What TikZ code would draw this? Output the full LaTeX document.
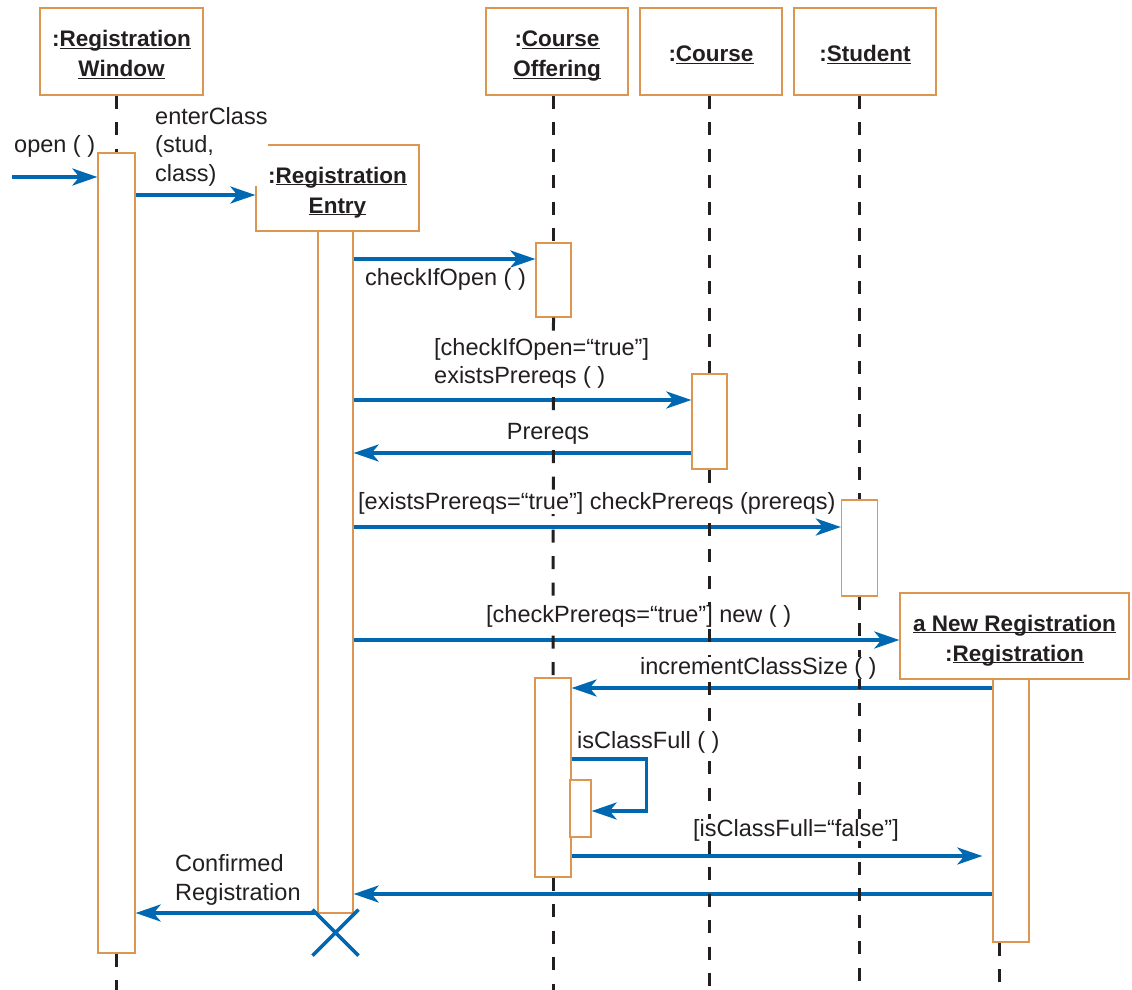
\documentclass[tikz,border=0pt]{standalone}
\usepackage{fontspec}
\setmainfont{Liberation Sans}
\usetikzlibrary{arrows.meta, positioning, calc}

\definecolor{msgblue}{RGB}{0,103,177}
\definecolor{boxorange}{RGB}{221,150,82}
\definecolor{ink}{RGB}{35,31,32}

% underline that ignores descenders
\newcommand{\uname}[1]{\underline{\smash{#1}}}
% extra head room for the first line of an object box
\newcommand{\headroom}{\rule{0pt}{22pt}}

\begin{document}
\begin{tikzpicture}[
    x=1pt, y=-1pt, >=Stealth,
    obj/.style={draw=boxorange, line width=1.3pt, fill=white, text=ink, align=center,
        font=\fontsize{22.5}{30}\selectfont\bfseries, inner sep=0pt},
    act/.style={draw=boxorange, line width=1.3pt, fill=white, inner sep=0pt},
    life/.style={draw=ink, line width=3pt, dash pattern=on 13pt off 13.5pt},
    msg/.style={draw=msgblue, line width=3.6pt, -{Stealth[length=25pt, width=17pt, inset=7pt]}},
    lbl/.style={text=ink, fill=white, font=\fontsize{23.5}{28.5}\selectfont, align=left, inner sep=0pt},
    cross/.style={draw=msgblue, line width=3.6pt},
]
    \useasboundingbox (0,0) rectangle (1132,990);
    \coordinate (bottom) at (0,990);

    % objects
    \node[obj, minimum width=163pt, minimum height=87pt] (win) at (121.5,51.5) {\headroom:\uname{Registration}\\\uname{Window}};
    \node[obj, minimum width=163pt, minimum height=86pt] (entry) at (337.5,188) {\headroom:\uname{Registration}\\\uname{Entry}};
    \node[obj, minimum width=142pt, minimum height=87pt] (offer) at (557,51.5) {\headroom:\uname{Course}\\\uname{Offering}};
    \node[obj, minimum width=142pt, minimum height=87pt] (course) at (711,51.5) {\headroom:\uname{Course}};
    \node[obj, minimum width=142pt, minimum height=87pt] (stud) at (865,51.5) {\headroom:\uname{Student}};
    \node[obj, minimum width=229pt, minimum height=86pt] (newreg) at (1014.5,636) {\headroom\uname{a New Registration}\\:\uname{Registration}};

    % activation bars
    \node[act, minimum width=37pt, minimum height=800pt] (winAct) at (116.5,553) {};
    \node[act, minimum width=35pt, minimum height=682pt] (entryAct) at (335.5,572) {};
    \node[act, minimum width=35pt, minimum height=74pt] (offAct) at (553.5,280) {};
    \node[act, minimum width=35pt, minimum height=95pt] (courseAct) at (709.5,421.5) {};
    \node[act, minimum width=36pt, minimum height=96pt] (studAct) at (859.5,548) {};
    \node[act, minimum width=36pt, minimum height=263pt] (newAct) at (1011,810.5) {};
    \node[act, minimum width=36pt, minimum height=199pt] (offAct2) at (553,777.5) {};
    \node[act, minimum width=21pt, minimum height=57pt] (nestAct) at (580.5,808.5) {};

    % messages
    \coordinate (openFrom) at (12,177);
    \draw[msg] (openFrom) -- (winAct.west |- openFrom);
    \draw[msg] (winAct.east |- 0,195) -- (entry.west |- 0,195);
    \draw[msg] (entryAct.east |- 0,259) -- (offAct.west |- 0,259);
    \draw[msg] (entryAct.east |- 0,400) -- (courseAct.west |- 0,400);
    \draw[msg] (courseAct.west |- 0,453) -- (entryAct.east |- 0,453);
    \draw[msg] (entryAct.east |- 0,527) -- (studAct.west |- 0,527);
    \draw[msg] (entryAct.east |- 0,640) -- (newreg.west |- 0,640);
    \draw[msg] (newAct.west |- 0,688) -- (offAct2.east |- 0,688);
    \draw[msg] (offAct2.east |- 0,759) -- ++(75,0) |- (nestAct.east |- 0,811);
    \draw[msg, shorten >=10pt] (offAct2.east |- 0,856) -- (newAct.west |- 0,856);
    \draw[msg] (newAct.west |- 0,894) -- (entryAct.east |- 0,894);
    \draw[msg] (entryAct.west |- 0,913) -- (winAct.east |- 0,913);

    % end of the entry object
    \path (entryAct.south) ++(0,19) coordinate (death);
    \draw[cross] (death) ++(-23,-23) -- ++(46,46) (death) ++(23,-23) -- ++(-46,46);

    % lifelines
    \draw[life] (winAct.north |- win.south) -- (winAct.north);
    \draw[life] (winAct.south) -- (winAct.south |- bottom);
    \draw[life] (offAct.north |- offer.south) -- (offAct.north);
    \draw[life] (offAct.south) -- (offAct2.north);
    \draw[life] (offAct2.south) -- (offAct2.south |- bottom);
    \draw[life] (courseAct.north |- course.south) -- (courseAct.north);
    \draw[life] (courseAct.south) -- (courseAct.south |- bottom);
    \draw[life] (studAct.north |- stud.south) -- (studAct.north);
    \draw[life] (studAct.south) -- (studAct.south |- bottom);
    \coordinate (newLife) at ([xshift=7pt]newAct.south west);
    \draw[life] (newLife) -- (newLife |- bottom);

    % message labels
    \node[lbl, anchor=base west] (openL) at (14,152) {open ( )};
    \node[lbl, anchor=north west] (enterL) at (155,106.8) {enterClass\\(stud,\\class)};
    \node[lbl, anchor=base west] (openCheckL) at (365,285) {checkIfOpen ( )};
    \node[lbl, anchor=north west] (existsL) at (434,337.8) {[checkIfOpen=“true”]\\existsPrereqs ( )};
    \node[lbl, anchor=base] (prereqL) at (548,439) {Prereqs};
    \node[lbl, anchor=base west] (checkL) at (358,509) {[existsPrereqs=“true”] checkPrereqs (prereqs)};
    \node[lbl, anchor=base west] (newL) at (486,622) {[checkPrereqs=“true”] new ( )};
    \node[lbl, anchor=base west] (incL) at (640,674) {incrementClassSize ( )};
    \node[lbl, anchor=base west] (fullL) at (577,748) {isClassFull ( )};
    \node[lbl, anchor=base west] (falseL) at (693,836) {[isClassFull=“false”]};
    \node[lbl, anchor=north west] (confL) at (175,854.5) {Confirmed\\Registration};
\end{tikzpicture}
\end{document}
